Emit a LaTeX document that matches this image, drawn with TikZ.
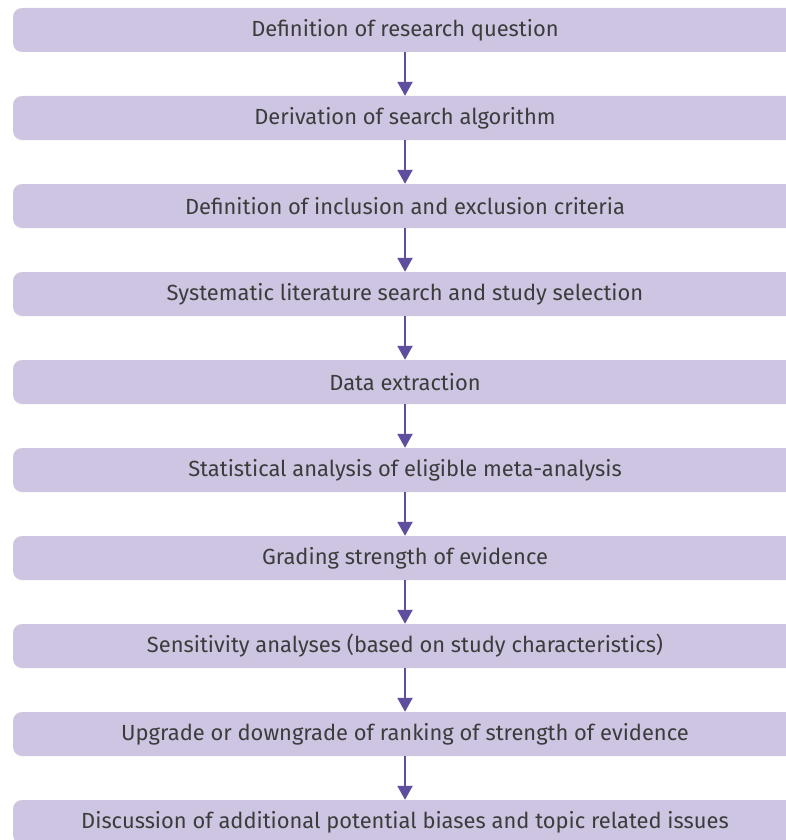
\documentclass[tikz,border=0pt]{standalone}
\usepackage{fontspec}
\setmainfont{Fira Sans}
\usepackage{tikz}
\usetikzlibrary{arrows.meta}
\definecolor{stepfill}{RGB}{205,197,225}
\definecolor{arrowcol}{RGB}{95,78,160}
\definecolor{textcol}{RGB}{60,60,60}

\begin{document}
\begin{tikzpicture}[x=1pt,y=1pt,
    stepbox/.style={fill=stepfill,rounded corners=9pt,minimum width=784pt,
      minimum height=44pt,inner sep=0pt,text=textcol,font=\fontsize{21.9}{25}\selectfont},
    flow/.style={arrowcol,line width=2.2pt,-{Triangle[width=15pt,length=14pt]}}]
  \useasboundingbox (0,0) rectangle (786,-840);
  \clip (0,0) rectangle (786,-840);
  \node[stepbox] (s1) at (405,-30) {Definition of research question};
  \node[stepbox] (s2) at (405,-118) {Derivation of search algorithm};
  \node[stepbox] (s3) at (405,-206) {Definition of inclusion and exclusion criteria};
  \node[stepbox] (s4) at (405,-294) {Systematic literature search and study selection};
  \node[stepbox] (s5) at (405,-382) {Data extraction};
  \node[stepbox] (s6) at (405,-470) {Statistical analysis of eligible meta-analysis};
  \node[stepbox] (s7) at (405,-558) {Grading strength of evidence};
  \node[stepbox] (s8) at (405,-646) {Sensitivity analyses (based on study characteristics)};
  \node[stepbox] (s9) at (405,-734) {Upgrade or downgrade of ranking of strength of evidence};
  \node[stepbox] (s10) at (405,-822) {Discussion of additional potential biases and topic related issues};
  \draw[flow]
    (s1)
    --
    (s2);
  \draw[flow]
    (s2)
    --
    (s3);
  \draw[flow]
    (s3)
    --
    (s4);
  \draw[flow]
    (s4)
    --
    (s5);
  \draw[flow]
    (s5)
    --
    (s6);
  \draw[flow]
    (s6)
    --
    (s7);
  \draw[flow]
    (s7)
    --
    (s8);
  \draw[flow]
    (s8)
    --
    (s9);
  \draw[flow]
    (s9)
    --
    (s10);
\end{tikzpicture}
\end{document}
